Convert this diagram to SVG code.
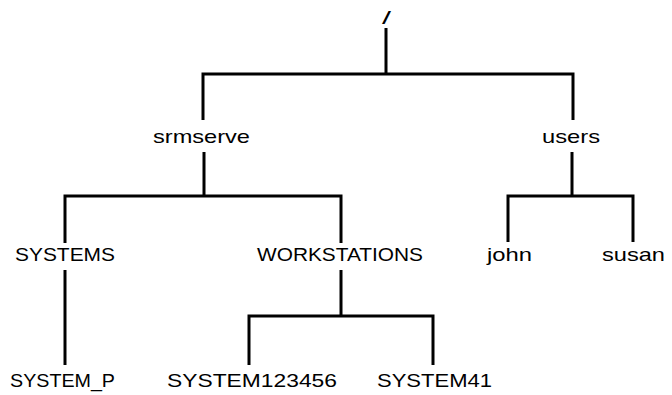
<svg xmlns="http://www.w3.org/2000/svg" width="672" height="395" viewBox="0 0 672 395">
<style>
.t{font-family:"Liberation Sans","DejaVu Sans",sans-serif;font-size:19px;fill:#000;}
.c{fill:none;stroke:#000;stroke-width:3;stroke-linecap:butt;stroke-linejoin:miter;}
</style>
<rect width="672" height="395" fill="#fff"/>
<g id="connectors">
<path class="c" d="M386,28 V74 M203,120 V74 H573 V120"/>
<path class="c" d="M204,152 V196 M65,243 V196 H341 V243"/>
<path class="c" d="M572,152 V196 M508,242 V196 H633 V242"/>
<path class="c" d="M65,270 V365"/>
<path class="c" d="M341,270 V316 M249,365 V316 H433 V365"/>
</g>
<g id="root"><text class="t" x="382" y="24" textLength="9" lengthAdjust="spacingAndGlyphs">/</text></g>
<g id="srmserve"><text class="t" x="153" y="143" textLength="97" lengthAdjust="spacingAndGlyphs">srmserve</text></g>
<g id="users"><text class="t" x="542" y="143" textLength="58" lengthAdjust="spacingAndGlyphs">users</text></g>
<g id="SYSTEMS"><text class="t" x="15" y="261" textLength="100" lengthAdjust="spacingAndGlyphs">SYSTEMS</text></g>
<g id="WORKSTATIONS"><text class="t" x="257" y="261" textLength="166" lengthAdjust="spacingAndGlyphs">WORKSTATIONS</text></g>
<g id="john"><text class="t" x="487" y="261" textLength="45" lengthAdjust="spacingAndGlyphs">john</text></g>
<g id="susan"><text class="t" x="602" y="261" textLength="63" lengthAdjust="spacingAndGlyphs">susan</text></g>
<g id="SYSTEM_P"><text class="t" x="10" y="387" textLength="105" lengthAdjust="spacingAndGlyphs">SYSTEM_P</text></g>
<g id="SYSTEM123456"><text class="t" x="167" y="387" textLength="170" lengthAdjust="spacingAndGlyphs">SYSTEM123456</text></g>
<g id="SYSTEM41"><text class="t" x="377" y="387" textLength="115" lengthAdjust="spacingAndGlyphs">SYSTEM41</text></g>
</svg>
